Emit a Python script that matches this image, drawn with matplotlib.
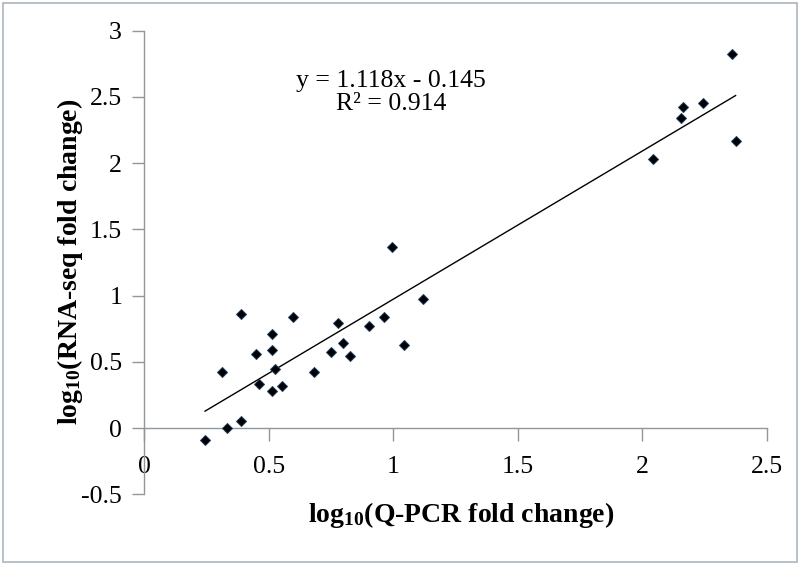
import matplotlib.pyplot as plt
import matplotlib.patches as patches
import numpy as np

# log10 fold changes
qpcr = [0.244, 0.333, 0.387, 0.311, 0.390, 0.447, 0.461, 0.514, 0.514, 0.512,
        0.525, 0.552, 0.597, 0.683, 0.749, 0.779, 0.799, 0.826, 0.902, 0.961,
        1.042, 1.120, 0.995, 2.359, 2.165, 2.157, 2.245, 2.375, 2.042]
rnaseq = [-0.087, 0.000, 0.057, 0.426, 0.862, 0.562, 0.334, 0.711, 0.590, 0.278,
          0.444, 0.318, 0.842, 0.421, 0.572, 0.794, 0.643, 0.547, 0.774, 0.836,
          0.625, 0.977, 1.370, 2.824, 2.421, 2.338, 2.454, 2.168, 2.029]
slope, intercept, r2 = 1.118, -0.145, 0.914
xticks = [0, 0.5, 1, 1.5, 2, 2.5]
yticks = [-0.5, 0, 0.5, 1, 1.5, 2, 2.5, 3]

plt.rcParams['font.family'] = ['Liberation Serif', 'DejaVu Serif']
plt.rcParams['mathtext.fontset'] = 'custom'
plt.rcParams['mathtext.rm'] = 'Liberation Serif'
plt.rcParams['mathtext.bf'] = 'Liberation Serif:bold'
plt.rcParams['mathtext.default'] = 'bf'

axcol = '#8f979c'

fig = plt.figure(figsize=(8, 5.69), dpi=100)
ax = fig.add_axes([0.1804, 0.1313, 0.778, 0.8148])

ax.plot(qpcr, rnaseq, linestyle='none', marker='D', ms=5.2,
        color='black', mec='#1f3a5f', mew=0.7, zorder=3)

xs = np.array([min(qpcr), max(qpcr)])
ax.plot(xs, slope * xs + intercept, color='black', lw=1.0, zorder=2)

ax.set_xlim(0, 2.5)
ax.set_ylim(-0.5, 3)
ax.set_xticks(xticks)
ax.set_yticks(yticks)
ax.set_xticklabels([f'{t:g}' for t in xticks])
ax.set_yticklabels([f'{t:g}' for t in yticks])

ax.spines['top'].set_visible(False)
ax.spines['right'].set_visible(False)
ax.spines['bottom'].set_position(('data', 0))
for s in ('left', 'bottom'):
    ax.spines[s].set_color(axcol)
    ax.spines[s].set_linewidth(1.0)
ax.tick_params(axis='x', direction='out', length=9, width=1.0, color=axcol,
               labelsize=18.5, pad=11)
ax.tick_params(axis='y', direction='out', length=9, width=1.0, color=axcol,
               labelsize=18.5, pad=7)

ax.text(0.991, 2.536, f'y = {slope}x - {abs(intercept)}\nR² = {r2}',
        ha='center', va='center', multialignment='center', fontsize=18.5,
        linespacing=1.05)

fig.text(0.576, 0.095, r'$log_{10}$' + '(Q-PCR fold change)', ha='center',
         va='center', fontsize=20, fontweight='bold')
fig.text(0.0875, 0.5395, r'$log_{10}$' + '(RNA-seq fold change)', ha='center',
         va='center', rotation=90, fontsize=20, fontweight='bold')

fig.patches.append(patches.Rectangle((0.00375, 0.0123), 0.9925, 0.9824,
                                     transform=fig.transFigure, fill=False,
                                     ec='#b4bcc2', lw=1.3))

plt.savefig('out.png', dpi=100)
